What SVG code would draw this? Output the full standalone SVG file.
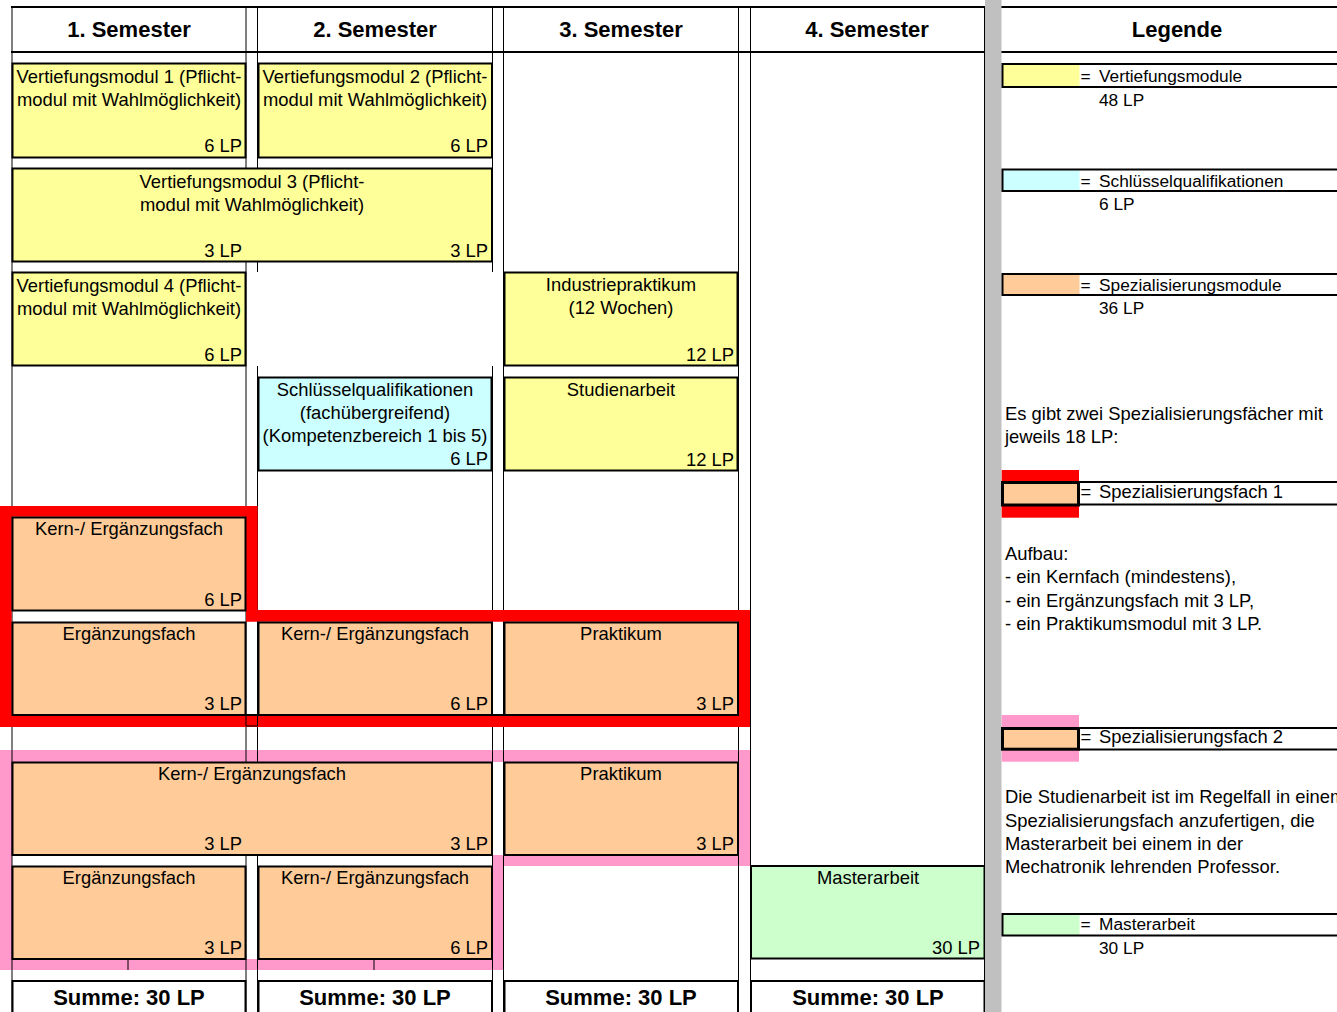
<svg xmlns="http://www.w3.org/2000/svg" width="1337" height="1012" viewBox="0 0 1337 1012">
<style>
text{font-family:"Liberation Sans",Arial,Helvetica,sans-serif;font-size:18.4px;fill:#000}
.s{font-size:17.3px}
.b{font-weight:bold;font-size:22px}
.m{text-anchor:middle}
.e{text-anchor:end}
.box{stroke:#000;stroke-width:2}
.y{fill:#FFFF99}.c{fill:#CCFFFF}.o{fill:#FFCC99}.g{fill:#CCFFCC}.w{fill:#fff}
.gl{stroke:#000;stroke-width:1;fill:none}
.hl{stroke:#000;stroke-width:2;fill:none}
.sw{stroke:#000;stroke-width:3}
</style>
<rect width="1337" height="1012" fill="#fff"/>

<!-- pink frame (Spezialisierungsfach 2) -->
<path id="frame2" d="M0,750H750V866H504V970H0Z M12,762V959H492.5V855H738V762Z" fill="#FF99CC" fill-rule="evenodd"/>

<!-- grid lines -->
<g id="grid" class="gl">
<path d="M12,7V1012 M246,7V1012 M257.5,7V272 M257.5,366V1012 M492.5,7V272 M492.5,366V1012 M503.5,7V1012 M738.5,7V1012 M750.5,7V1012 M984.5,7V1012"/>
<path d="M128,959V970 M374,959V970"/>
</g>

<!-- red frame (Spezialisierungsfach 1) -->
<path id="frame1" d="M0,506H257.7V610H750V727H0Z M11.7,516.7V715H738V621.7H246V516.7Z" fill="#FF0000" fill-rule="evenodd"/>
<g class="gl"><path d="M246,715V726 M257.5,715V726 M246,726H257.5"/></g>

<!-- header -->
<g id="header">
<path class="hl" d="M11,7H985 M1001,7H1337 M11,52H985 M1001,52H1337"/>
<text class="b m" x="129" y="37">1. Semester</text>
<text class="b m" x="375" y="37">2. Semester</text>
<text class="b m" x="621" y="37">3. Semester</text>
<text class="b m" x="867" y="37">4. Semester</text>
<text class="b m" x="1177" y="37">Legende</text>
</g>

<!-- modules -->
<g id="vm1"><rect class="box y" x="12.5" y="63.5" width="233" height="94"/>
<text class="m" x="129" y="83">Vertiefungsmodul 1 (Pflicht-</text>
<text class="m" x="129" y="106">modul mit Wahlmöglichkeit)</text>
<text class="e" x="242" y="152">6 LP</text></g>

<g id="vm2"><rect class="box y" x="258.5" y="63.5" width="233.5" height="94"/>
<text class="m" x="375" y="83">Vertiefungsmodul 2 (Pflicht-</text>
<text class="m" x="375" y="106">modul mit Wahlmöglichkeit)</text>
<text class="e" x="488" y="152">6 LP</text></g>

<g id="vm3"><rect class="box y" x="12.5" y="168.5" width="479.5" height="93"/>
<text class="m" x="252" y="188">Vertiefungsmodul 3 (Pflicht-</text>
<text class="m" x="252" y="211">modul mit Wahlmöglichkeit)</text>
<text class="e" x="242" y="256.5">3 LP</text>
<text class="e" x="488" y="256.5">3 LP</text></g>

<g id="vm4"><rect class="box y" x="12.5" y="272.5" width="233" height="93"/>
<text class="m" x="129" y="292">Vertiefungsmodul 4 (Pflicht-</text>
<text class="m" x="129" y="315">modul mit Wahlmöglichkeit)</text>
<text class="e" x="242" y="360.5">6 LP</text></g>

<g id="industriepraktikum"><rect class="box y" x="504.5" y="272.5" width="233" height="93"/>
<text class="m" x="621" y="291">Industriepraktikum</text>
<text class="m" x="621" y="314">(12 Wochen)</text>
<text class="e" x="734" y="360.5">12 LP</text></g>

<g id="schluessel"><rect class="box c" x="258.5" y="377.5" width="233" height="93"/>
<text class="m" x="375" y="395.5">Schlüsselqualifikationen</text>
<text class="m" x="375" y="418.5">(fachübergreifend)</text>
<text class="m" x="375" y="441.5">(Kompetenzbereich 1 bis 5)</text>
<text class="e" x="488" y="465">6 LP</text></g>

<g id="studienarbeit"><rect class="box y" x="504.5" y="377.5" width="233" height="93"/>
<text class="m" x="621" y="396">Studienarbeit</text>
<text class="e" x="734" y="465.5">12 LP</text></g>

<g id="s1-kern1"><rect class="box o" x="12.5" y="517.5" width="233" height="93"/>
<text class="m" x="129" y="535">Kern-/ Ergänzungsfach</text>
<text class="e" x="242" y="605.5">6 LP</text></g>

<g id="s1-erg"><rect class="box o" x="12.5" y="622.5" width="233" height="92.5"/>
<text class="m" x="129" y="640">Ergänzungsfach</text>
<text class="e" x="242" y="710">3 LP</text></g>

<g id="s1-kern2"><rect class="box o" x="258.5" y="622.5" width="233.5" height="92.5"/>
<text class="m" x="375" y="640">Kern-/ Ergänzungsfach</text>
<text class="e" x="488" y="710">6 LP</text></g>

<g id="s1-prak"><rect class="box o" x="504.5" y="622.5" width="233.5" height="92.5"/>
<text class="m" x="621" y="640">Praktikum</text>
<text class="e" x="734" y="710">3 LP</text></g>
<path class="hl" d="M12,715H738"/>

<g id="s2-kern1"><rect class="box o" x="12.5" y="762.5" width="479.5" height="92.5"/>
<text class="m" x="252" y="780">Kern-/ Ergänzungsfach</text>
<text class="e" x="242" y="850">3 LP</text>
<text class="e" x="488" y="850">3 LP</text></g>

<g id="s2-prak"><rect class="box o" x="504.5" y="762.5" width="233.5" height="92.5"/>
<text class="m" x="621" y="780">Praktikum</text>
<text class="e" x="734" y="850">3 LP</text></g>

<g id="s2-erg"><rect class="box o" x="12.5" y="866.5" width="233" height="92.5"/>
<text class="m" x="129" y="884">Ergänzungsfach</text>
<text class="e" x="242" y="953.5">3 LP</text></g>

<g id="s2-kern2"><rect class="box o" x="258.5" y="866.5" width="233.5" height="92.5"/>
<text class="m" x="375" y="884">Kern-/ Ergänzungsfach</text>
<text class="e" x="488" y="953.5">6 LP</text></g>

<g id="masterarbeit"><rect class="box g" x="751" y="866" width="233.5" height="92.5"/>
<text class="m" x="868" y="883.5">Masterarbeit</text>
<text class="e" x="980" y="954">30 LP</text></g>

<!-- sums -->
<g id="summe1"><rect class="box w" x="12.5" y="981" width="233" height="40"/><text class="b m" x="129" y="1005">Summe: 30 LP</text></g>
<g id="summe2"><rect class="box w" x="258.5" y="981" width="233.5" height="40"/><text class="b m" x="375" y="1005">Summe: 30 LP</text></g>
<g id="summe3"><rect class="box w" x="504.5" y="981" width="233.5" height="40"/><text class="b m" x="621" y="1005">Summe: 30 LP</text></g>
<g id="summe4"><rect class="box w" x="751" y="981" width="233.5" height="40"/><text class="b m" x="868" y="1005">Summe: 30 LP</text></g>

<!-- separator bar -->
<rect x="985" y="0" width="16.5" height="1012" fill="#C0C0C0"/>

<!-- legend -->
<g id="leg-vm">
<rect x="1002.5" y="64" width="77" height="23" class="y"/>
<path class="hl" d="M1002,64H1337 M1002,87H1337 M1002.5,63V88"/>
<text class="s" x="1080.5" y="81.7">=<tspan x="1099">Vertiefungsmodule</tspan></text>
<text class="s" x="1099" y="106">48 LP</text>
</g>
<g id="leg-sq">
<rect x="1002.5" y="169.5" width="77" height="22" class="c"/>
<path class="hl" d="M1002,169.5H1337 M1002,191H1337 M1002.5,168.5V192"/>
<text class="s" x="1080.5" y="186.7">=<tspan x="1099">Schlüsselqualifikationen</tspan></text>
<text class="s" x="1099" y="210">6 LP</text>
</g>
<g id="leg-sm">
<rect x="1002.5" y="274" width="77" height="21" class="o"/>
<path class="hl" d="M1002,274H1337 M1002,295H1337 M1002.5,273V296"/>
<text class="s" x="1080.5" y="290.7">=<tspan x="1099">Spezialisierungsmodule</tspan></text>
<text class="s" x="1099" y="314">36 LP</text>
</g>
<text x="1005" y="420">Es gibt zwei Spezialisierungsfächer mit</text>
<text x="1005" y="443">jeweils 18 LP:</text>
<g id="leg-s1">
<rect x="1001.7" y="470" width="77.3" height="47.7" fill="#FF0000"/>
<path class="hl" d="M1079,482H1337 M1079,504.5H1337"/>
<rect x="1002.5" y="482.5" width="76" height="22.5" class="o sw"/>
<text x="1080.5" y="498">=<tspan x="1099">Spezialisierungsfach 1</tspan></text>
</g>
<text x="1005" y="560">Aufbau:</text>
<text x="1005" y="583.3">- ein Kernfach (mindestens),</text>
<text x="1005" y="606.6">- ein Ergänzungsfach mit 3 LP,</text>
<text x="1005" y="629.9">- ein Praktikumsmodul mit 3 LP.</text>
<g id="leg-s2">
<rect x="1001.7" y="715" width="77.3" height="46.7" fill="#FF99CC"/>
<path class="hl" d="M1079,728H1337 M1079,749.5H1337"/>
<rect x="1002.5" y="728.5" width="76" height="20.7" class="o sw"/>
<text x="1080.5" y="743.3">=<tspan x="1099">Spezialisierungsfach 2</tspan></text>
</g>
<text x="1005" y="803.3">Die Studienarbeit ist im Regelfall in einem</text>
<text x="1005" y="826.6">Spezialisierungsfach anzufertigen, die</text>
<text x="1005" y="849.9">Masterarbeit bei einem in der</text>
<text x="1005" y="873.2">Mechatronik lehrenden Professor.</text>
<g id="leg-ma">
<rect x="1002.5" y="914" width="77" height="21.5" class="g"/>
<path class="hl" d="M1002,914H1337 M1002,935.5H1337 M1002.5,913V936.5"/>
<text class="s" x="1080.5" y="930">=<tspan x="1099">Masterarbeit</tspan></text>
<text class="s" x="1099" y="954">30 LP</text>
</g>
</svg>
